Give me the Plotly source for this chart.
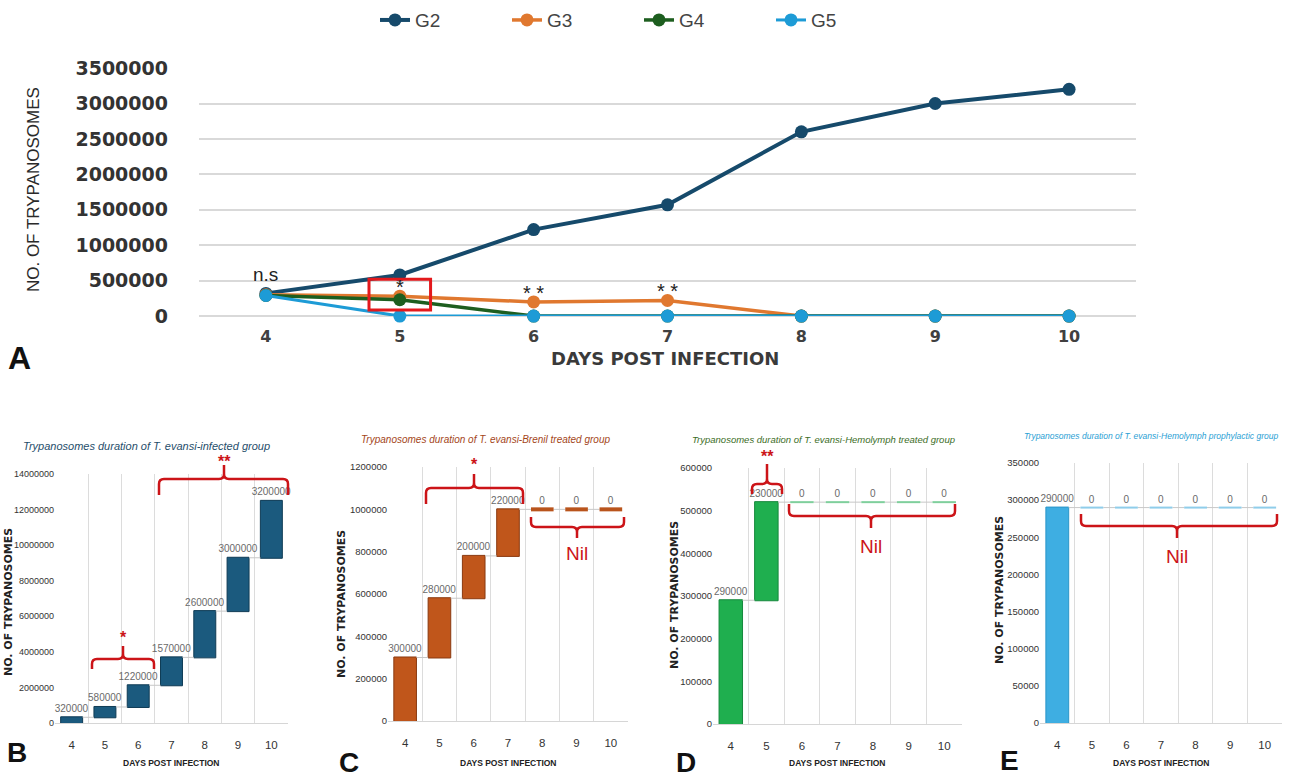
import plotly.graph_objects as go

W, H = 1289, 781

# ---------------- data ----------------
days = [4, 5, 6, 7, 8, 9, 10]
g2 = [320000, 580000, 1220000, 1570000, 2600000, 3000000, 3200000]
g3 = [300000, 280000, 200000, 220000, 0, 0, 0]
g4 = [290000, 230000, 0, 0, 0, 0, 0]
g5 = [290000, 0, 0, 0, 0, 0, 0]
series_names = ["G2", "G3", "G4", "G5"]
line_colors = ["#164a6b", "#e0782f", "#1d5e1f", "#1d9bd6"]

panel_titles = [
    "Trypanosomes duration of T. evansi-infected group",
    "Trypanosomes duration of T. evansi-Brenil treated group",
    "Trypanosomes duration of T. evansi-Hemolymph treated group",
    "Trypanosomes duration of T. evansi-Hemolymph prophylactic group",
]
title_colors = ["#1f4e6b", "#a4461a", "#3b6d26", "#2aa0d4"]
bar_colors = ["#1b5a7e", "#c0561b", "#1faf4f", "#3eaee2"]
bar_edges = ["#0f3b55", "#8a3a10", "#16893c", "#2a95c8"]
zero_colors = ["#1b5a7e", "#b9541c", "#7fcf9c", "#8fcdea"]
panel_ymax = [14000000, 1200000, 600000, 350000]
panel_dtick = [2000000, 200000, 100000, 50000]

NARROW = "Liberation Sans, Arial, sans-serif"
SANS = "Liberation Sans, Arial, sans-serif"
WIDE = "DejaVu Sans, Verdana, sans-serif"

# vertical calibration of the photographed page (observed offset / scale)
Y_OFF, Y_SCALE = 9.9, 0.972


def px(x):
    return x / W


def py(y):
    return 1 - ((y - Y_OFF) / Y_SCALE) / H


fig = go.Figure()

# ---------------- Panel A: line chart ----------------
A_x = (199, 1136)
A_y = (315, 67)
for name, vals, col, lw in zip(series_names, [g2, g3, g4, g5], line_colors, [4, 3.5, 3.5, 3]):
    fig.add_trace(go.Scatter(
        x=days, y=vals, name=name, mode="lines+markers",
        line=dict(color=col, width=lw),
        marker=dict(color=col, size=13),
        cliponaxis=False, xaxis="x", yaxis="y",
    ))

# ---------------- Panels B-E: waterfall charts ----------------
panel_px = [
    ((55, 288), (722, 473)),
    ((388, 628), (720, 466)),
    ((713, 962), (723, 467)),
    ((1040, 1282), (722, 462)),
]
zero_w = [1, 4, 2, 2]
for i, vals in enumerate([g2, g3, g4, g5]):
    ax = str(i + 2)
    mk = dict(marker=dict(color=bar_colors[i], line=dict(color=bar_edges[i], width=1)))
    fig.add_trace(go.Waterfall(
        x=days, y=vals, measure=["relative"] * len(vals),
        text=[str(v) for v in vals], textposition="outside", constraintext="none",
        textfont=dict(family=NARROW, size=10, color="#6a6a6a"),
        increasing=mk, decreasing=mk, totals=mk,
        connector=dict(line=dict(color="#c8c8c8", width=1)),
        width=0.66, cliponaxis=False, showlegend=False,
        xaxis="x" + ax, yaxis="y" + ax,
    ))
    # zero-change steps drawn as flat bars at the running level
    xs, ys, level = [], [], 0
    for d, v in zip(days, vals):
        level += v
        if v == 0:
            xs += [d - 0.33, d + 0.33, None]
            ys += [level, level, None]
    if xs:
        fig.add_trace(go.Scatter(
            x=xs, y=ys, mode="lines", line=dict(color=zero_colors[i], width=zero_w[i]),
            showlegend=False, hoverinfo="skip", cliponaxis=False,
            xaxis="x" + ax, yaxis="y" + ax,
        ))

layout = dict(
    width=W, height=H, margin=dict(l=0, r=0, t=0, b=0),
    paper_bgcolor="white", plot_bgcolor="white",
    font=dict(family=SANS, color="#333"),
    legend=dict(orientation="h", x=px(375), xanchor="left", y=min(py(0), 1.5), yanchor="top",
                font=dict(family=SANS, size=19, color="#444"),
                entrywidth=87, entrywidthmode="pixels", bgcolor="rgba(0,0,0,0)"),
    xaxis=dict(domain=[px(A_x[0]), px(A_x[1])], range=[3.5, 10.5], tickvals=days,
               showgrid=False, zeroline=False, showline=False, anchor="y",
               tickfont=dict(family=WIDE, size=16, color="#404040", weight="bold"),
               ticklabelstandoff=9),
    yaxis=dict(domain=[py(A_y[0]), py(A_y[1])], range=[0, 3500000], dtick=500000,
               tickformat="d", showgrid=True, gridcolor="#d9d9d9", gridwidth=1.5,
               zeroline=True, zerolinecolor="#d9d9d9", zerolinewidth=1.5, anchor="x",
               tickfont=dict(family=WIDE, size=19, color="#333", weight="bold"),
               ticklabelstandoff=30),
)
for i in range(4):
    ax = str(i + 2)
    (x0, x1), (y0, y1) = panel_px[i]
    layout["xaxis" + ax] = dict(
        domain=[px(x0), px(x1)], range=[3.5, 10.5], tickvals=days, anchor="y" + ax,
        showgrid=False, zeroline=False, showline=True, linecolor="#d6d6d6", linewidth=1,
        minor=dict(tickvals=[d - 0.5 for d in days] + [days[-1] + 0.5], showgrid=True,
                   gridcolor="#dcdcdc", gridwidth=1, ticks=""),
        tickfont=dict(family=NARROW, size=11.5, color="#333"), ticklabelstandoff=11,
    )
    layout["yaxis" + ax] = dict(
        domain=[py(y0), py(y1)], range=[0, panel_ymax[i]], dtick=panel_dtick[i],
        tickformat="d", anchor="x" + ax, showgrid=False, zeroline=False, showline=False,
        tickfont=dict(family=NARROW, size=9 if i == 0 else 9.5, color="#333"),
    )

annotations = []
shapes = []


def note(x, y, text, font, angle=0, xanchor="center", yanchor="middle"):
    yy = py(y)
    if yy < 0.008:
        yy, yanchor = 0.0, "bottom"
    annotations.append(dict(x=px(x), y=yy, xref="paper", yref="paper", text=text,
                            showarrow=False, font=font, textangle=angle,
                            xanchor=xanchor, yanchor=yanchor))


# Panel A texts
note(33, 189, "NO. OF TRYPANOSOMES", dict(family=SANS, size=17, color="#2a2a2a"), angle=-90)
note(665, 357, "DAYS POST INFECTION", dict(family=WIDE, size=18, color="#3a3a3a", weight="bold"))
note(19, 357, "A", dict(family=SANS, size=32, color="#111", weight="bold"))

# significance marks on panel A (data anchored)
sig_marks = [("n.s", 0, g2), ("*", 1, g3), ("* *", 2, g3), ("* *", 3, g3)]
for txt, idx, ser in sig_marks:
    annotations.append(dict(x=days[idx], y=ser[idx], xref="x", yref="y", text=txt,
                            showarrow=False, yanchor="bottom",
                            yshift=6 if txt == "n.s" else -4,
                            font=dict(family=SANS, size=19 if txt == "n.s" else 20, color="#222")))
shapes.append(dict(type="rect", xref="x", yref="y", x0=days[1] - 0.23, x1=days[1] + 0.23,
                   y0=85000, y1=520000, line=dict(color="#e3191c", width=3)))

# Panels B-E texts
title_pos = [(146, 445), (485, 438), (824, 438), (1151, 435)]
title_fonts = [(11, "normal"), (10, "normal"), (9.5, "normal"), (8.5, "normal")]
ytitle_pos = [(9, 601), (342, 603), (675, 594), (1000, 589)]
xtitle_y = 770
letters = ["B", "C", "D", "E"]
letter_pos = [(17, 763), (349, 762), (686, 762), (1010, 760)]
for i in range(4):
    (x0, x1), _ = panel_px[i]
    note(*title_pos[i], panel_titles[i],
         dict(family=NARROW, size=title_fonts[i][0], color=title_colors[i],
              style="italic", weight=title_fonts[i][1]))
    note(*ytitle_pos[i], "NO. OF TRYPANOSOMES",
         dict(family=WIDE, size=11, color="#222", weight="bold"), angle=-90)
    note((x0 + x1) / 2, xtitle_y, "DAYS POST INFECTION",
         dict(family=NARROW, size=8.5, color="#222", weight="bold"))
    note(*letter_pos[i], letters[i], dict(family=SANS, size=28, color="#111", weight="bold"))

# curly braces (pixel layout positions)
RED = "#cc1418"


def brace(x0, x1, y, d, s, xm, up=True):
    sg = 1 if up else -1
    r = 5
    pts = (f"M{px(x0)},{py(y + sg * d)} L{px(x0)},{py(y + sg * r)} "
           f"Q{px(x0)},{py(y)} {px(x0 + r)},{py(y)} L{px(xm - r)},{py(y)} "
           f"Q{px(xm)},{py(y)} {px(xm)},{py(y - sg * r)} L{px(xm)},{py(y - sg * s)} "
           f"M{px(xm)},{py(y - sg * r)} Q{px(xm)},{py(y)} {px(xm + r)},{py(y)} "
           f"L{px(x1 - r)},{py(y)} Q{px(x1)},{py(y)} {px(x1)},{py(y + sg * r)} "
           f"L{px(x1)},{py(y + sg * d)}")
    shapes.append(dict(type="path", xref="paper", yref="paper", path=pts,
                       line=dict(color=RED, width=2.5)))


brace(92, 154, 658, 10, 13, 123, True)
brace(159, 288, 478, 16, 14, 224, True)
brace(426, 523, 487, 16, 14, 474, True)
brace(531, 624, 526, 10, 11, 577, False)
brace(752, 782, 483, 10, 20, 767, True)
brace(789, 955, 515, 12, 12, 871, False)
brace(1081, 1277, 525, 12, 12, 1177, False)

star_font = dict(family=SANS, size=16, color=RED, weight="bold")
note(123, 637, "*", star_font)
note(224, 460, "**", star_font)
note(474, 463, "*", star_font)
note(767, 455, "**", star_font)
nil_font = dict(family=NARROW, size=19, color=RED)
note(577, 552, "Nil", nil_font)
note(871, 545, "Nil", nil_font)
note(1177, 555, "Nil", nil_font)

layout["annotations"] = annotations
layout["shapes"] = shapes
fig.update_layout(**layout)
fig.write_html("out.html", config={"displayModeBar": False},
               post_script="document.body.style.margin='0';document.body.style.padding='0';")
